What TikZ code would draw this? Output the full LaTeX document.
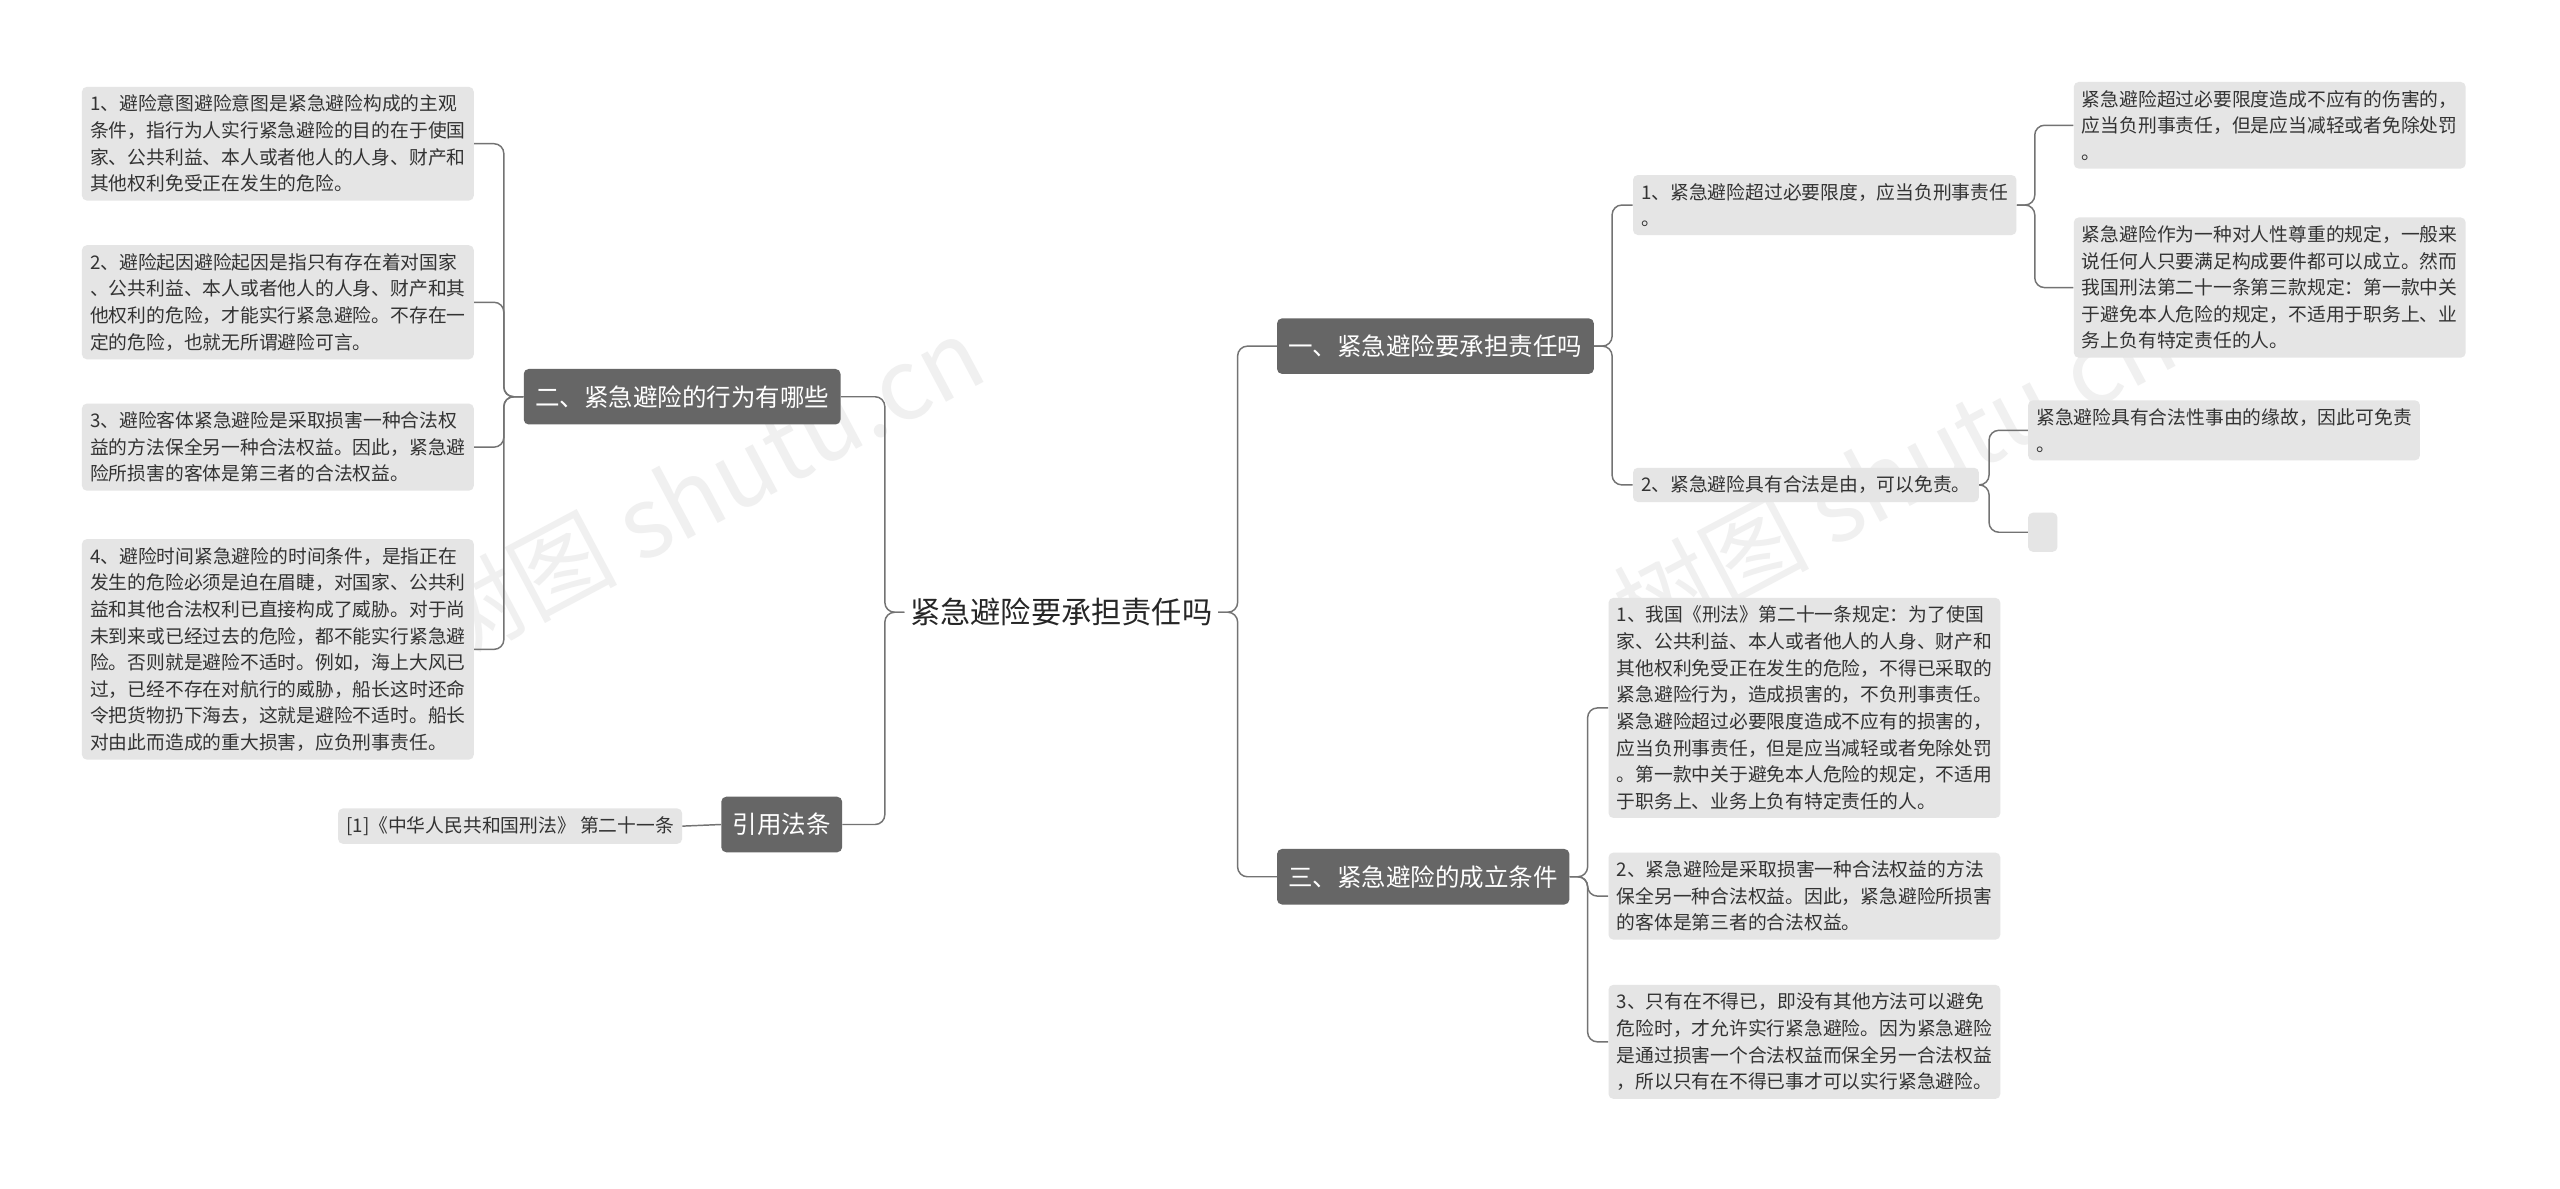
\documentclass[tikz,border=0pt]{standalone}
\usepackage{fontspec}
\setmainfont{Noto Sans CJK SC}
\begin{document}
\begin{tikzpicture}[x=1pt,y=-1pt,
 leaf/.style={fill=black!10,rounded corners=3,anchor=north west,align=left,font=\fontsize{11.5}{16.3}\selectfont,text=black!80,inner xsep=5,inner ysep=5},
 br/.style={fill=black!60,rounded corners=3,text=white,font=\fontsize{15}{17}\selectfont,minimum height=34,inner xsep=7},
 conn/.style={draw=black!55,line width=0.9pt,rounded corners=6}]
\useasboundingbox[fill=white] (0,0) rectangle (1568,728);
\node[text=black!6,font=\fontsize{60}{60}\selectfont,rotate=28] at (430,300) {树图 shutu.cn};
\node[text=black!6,font=\fontsize{60}{60}\selectfont,rotate=28] at (1160,290) {树图 shutu.cn};
\node[font=\fontsize{18.5}{20}\selectfont,text=black!85] (c) at (650,375) {紧急避险要承担责任吗};
% left
\node[br,anchor=east] (b2) at (515,243) {二、紧急避险的行为有哪些};
\node[br,anchor=east] (b4) at (516,505) {引用法条};
\node[leaf] (l1) at (50,53) {1、避险意图避险意图是紧急避险构成的主观\\条件，指行为人实行紧急避险的目的在于使国\\家、公共利益、本人或者他人的人身、财产和\\其他权利免受正在发生的危险。};
\node[leaf] (l2) at (50,150) {2、避险起因避险起因是指只有存在着对国家\\、公共利益、本人或者他人的人身、财产和其\\他权利的危险，才能实行紧急避险。不存在一\\定的危险，也就无所谓避险可言。};
\node[leaf] (l3) at (50,247) {3、避险客体紧急避险是采取损害一种合法权\\益的方法保全另一种合法权益。因此，紧急避\\险所损害的客体是第三者的合法权益。};
\node[leaf] (l4) at (50,330) {4、避险时间紧急避险的时间条件，是指正在\\发生的危险必须是迫在眉睫，对国家、公共利\\益和其他合法权利已直接构成了威胁。对于尚\\未到来或已经过去的危险，都不能实行紧急避\\险。否则就是避险不适时。例如，海上大风已\\过，已经不存在对航行的威胁，船长这时还命\\令把货物扔下海去，这就是避险不适时。船长\\对由此而造成的重大损害，应负刑事责任。};
\node[leaf,anchor=east] (lr) at (418,506) {[1]《中华人民共和国刑法》 第二十一条};
% right
\node[br,anchor=west] (r1) at (782,212) {一、紧急避险要承担责任吗};
\node[br,anchor=west] (r3) at (782,537) {三、紧急避险的成立条件};
\node[leaf] (r11) at (1000,107) {1、紧急避险超过必要限度，应当负刑事责任\\。};
\node[leaf,anchor=west] (r12) at (1000,297) {2、紧急避险具有合法是由，可以免责。};
\node[leaf] (a) at (1270,50) {紧急避险超过必要限度造成不应有的伤害的，\\应当负刑事责任，但是应当减轻或者免除处罚\\。};
\node[leaf] (b) at (1270,133) {紧急避险作为一种对人性尊重的规定，一般来\\说任何人只要满足构成要件都可以成立。然而\\我国刑法第二十一条第三款规定：第一款中关\\于避免本人危险的规定，不适用于职务上、业\\务上负有特定责任的人。};
\node[leaf] (cc) at (1242,245) {紧急避险具有合法性事由的缘故，因此可免责\\。};
\node[fill=black!10,rounded corners=3,minimum width=18,minimum height=24,anchor=west] (d) at (1242,326) {};
\node[leaf] (t1) at (985,366) {1、我国《刑法》第二十一条规定：为了使国\\家、公共利益、本人或者他人的人身、财产和\\其他权利免受正在发生的危险，不得已采取的\\紧急避险行为，造成损害的，不负刑事责任。\\紧急避险超过必要限度造成不应有的损害的，\\应当负刑事责任，但是应当减轻或者免除处罚\\。第一款中关于避免本人危险的规定，不适用\\于职务上、业务上负有特定责任的人。};
\node[leaf] (t2) at (985,522) {2、紧急避险是采取损害一种合法权益的方法\\保全另一种合法权益。因此，紧急避险所损害\\的客体是第三者的合法权益。};
\node[leaf] (t3) at (985,603) {3、只有在不得已，即没有其他方法可以避免\\危险时，才允许实行紧急避险。因为紧急避险\\是通过损害一个合法权益而保全另一合法权益\\，所以只有在不得已事才可以实行紧急避险。};
% connectors
\foreach \n in {b2,b4} \draw[conn] (c.west) -- ++(-12,0) |- (\n.east);
\foreach \n in {r1,r3} \draw[conn] (c.east) -- ++(12,0) |- (\n.west);
\foreach \n in {l1,l2,l3,l4} \draw[conn] (b2.west) -- ++(-12,0) |- (\n.east);
\draw[conn] (b4.west) -- (lr.east);
\foreach \n in {r11,r12} \draw[conn] (r1.east) -- ++(11,0) |- (\n.west);
\foreach \n in {t1,t2,t3} \draw[conn] (r3.east) -- ++(11,0) |- (\n.west);
\foreach \n in {a,b} \draw[conn] (r11.east) -- ++(11,0) |- (\n.west);
\foreach \n in {cc,d} \draw[conn] (r12.east) -- ++(6,0) |- (\n.west);
\end{tikzpicture}
\end{document}
